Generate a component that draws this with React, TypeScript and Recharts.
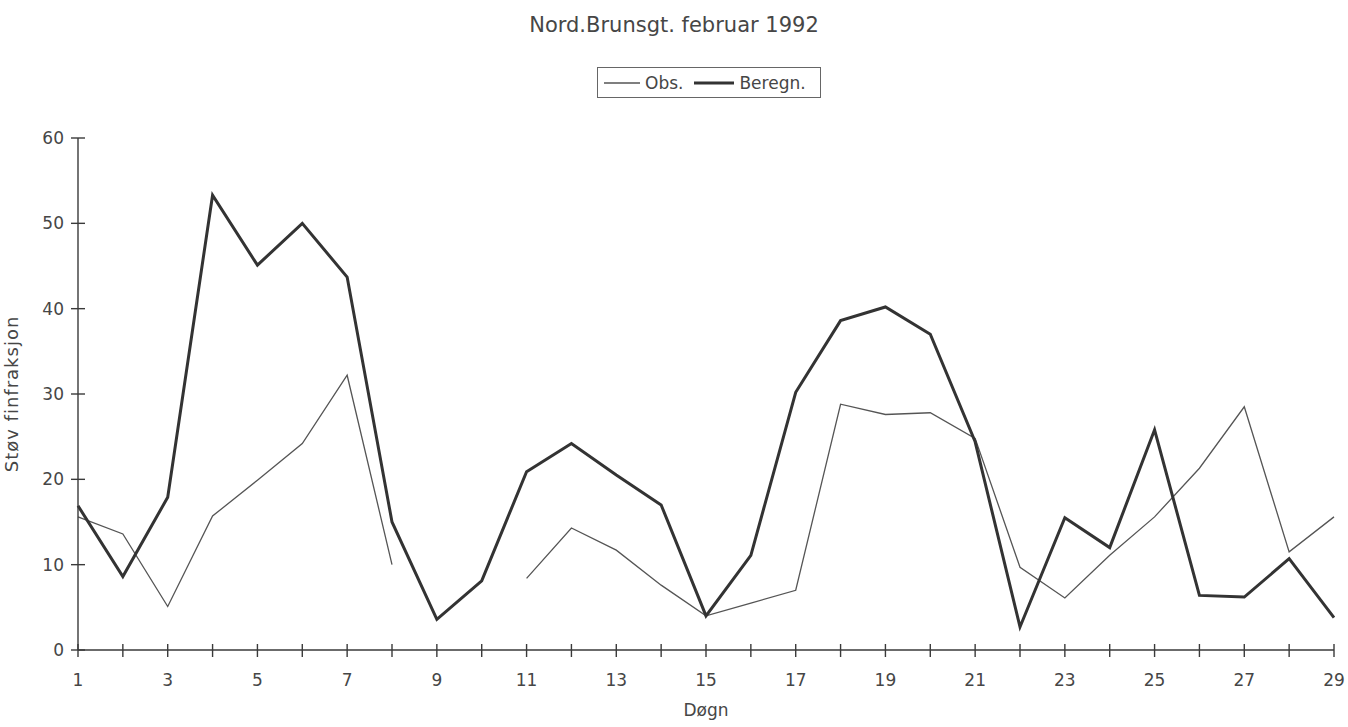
import { LineChart, Line, XAxis, YAxis, Label } from "recharts";

const days = [
  1, 2, 3, 4, 5, 6, 7, 8, 9, 10, 11, 12, 13, 14, 15, 16, 17, 18, 19, 20, 21,
  22, 23, 24, 25, 26, 27, 28, 29,
];

const obs = [
  15.6, 13.6, 5.1, 15.7, 19.9, 24.2, 32.2, 10.0, null, null, 8.4, 14.3, 11.7,
  7.6, 4.0, 5.5, 7.0, 28.8, 27.6, 27.8, 24.8, 9.7, 6.1, 11.1, 15.6, 21.3, 28.5,
  11.5, 15.6,
];

const beregn = [
  16.9, 8.6, 17.9, 53.3, 45.1, 50.0, 43.7, 15.0, 3.6, 8.1, 20.9, 24.2, 20.5,
  17.0, 4.0, 11.1, 30.2, 38.6, 40.2, 37.0, 24.4, 2.7, 15.5, 12.0, 25.8, 6.4,
  6.2, 10.7, 3.8,
];

const yTicks = [0, 10, 20, 30, 40, 50, 60];

const data = days.map((d, i) => ({ day: d, obs: obs[i], beregn: beregn[i] }));

const FONT = "'DejaVu Sans', sans-serif";
const TEXT = "#464646";
const AXIS = "#3a3a3a";

const XTick = (props: any) => {
  const { x, y, payload } = props;
  const v = payload.value;
  return (
    <g>
      <line x1={x} x2={x} y1={y - 6} y2={y + 7} stroke={AXIS} strokeWidth={1.4} />
      {v % 2 === 1 && (
        <text
          x={x}
          y={y + 30}
          textAnchor="middle"
          dominantBaseline="central"
          fontSize={17}
          fill={TEXT}
          fontFamily={FONT}
        >
          {v}
        </text>
      )}
    </g>
  );
};

const YTick = (props: any) => {
  const { x, y, payload } = props;
  return (
    <g>
      <line x1={x - 7} x2={x + 7} y1={y} y2={y} stroke={AXIS} strokeWidth={1.4} />
      <text
        x={x - 14}
        y={y}
        textAnchor="end"
        dominantBaseline="central"
        fontSize={17}
        fill={TEXT}
        fontFamily={FONT}
      >
        {payload.value}
      </text>
    </g>
  );
};

// legend drawn outside the chart so it doesn't push the plot down
const LegendBox = () => (
  <div
    style={{
      position: "absolute",
      top: 67,
      left: 597,
      width: 224,
      height: 31,
      boxSizing: "border-box",
      display: "flex",
      alignItems: "center",
      border: "1px solid #666",
      padding: "0 6px",
      fontFamily: FONT,
      fontSize: 17,
      color: TEXT,
      gap: 5,
      background: "#fff",
    }}
  >
    <svg width={36} height={4}>
      <line x1={0} x2={36} y1={2} y2={2} stroke="#555" strokeWidth={1.3} />
    </svg>
    <span style={{ marginRight: 6 }}>Obs.</span>
    <svg width={40} height={4}>
      <line x1={0} x2={40} y1={2} y2={2} stroke="#333" strokeWidth={3} />
    </svg>
    <span>Beregn.</span>
  </div>
);

export default function App() {
  return (
    <div
      style={{
        position: "absolute",
        left: 0,
        top: 0,
        width: 1348,
        height: 727,
        background: "#fff",
      }}
    >
      <div
        style={{
          position: "absolute",
          top: 12,
          width: 1348,
          textAlign: "center",
          fontFamily: FONT,
          fontSize: 21,
          lineHeight: "26px",
          color: TEXT,
        }}
      >
        Nord.Brunsgt. februar 1992
      </div>
      <LineChart
        width={1348}
        height={727}
        data={data}
        margin={{ top: 138, right: 14, bottom: 37, left: 18 }}
      >
        <XAxis
          dataKey="day"
          type="number"
          domain={[1, 29]}
          ticks={days}
          interval={0}
          tick={<XTick />}
          tickLine={false}
          tickSize={0}
          tickMargin={0}
          height={40}
          stroke={AXIS}
          strokeWidth={1.4}
        >
          <Label
            value="Døgn"
            position="insideBottom"
            offset={-26}
            fontSize={17}
            fill={TEXT}
            fontFamily={FONT}
          />
        </XAxis>
        <YAxis
          domain={[0, 60]}
          ticks={yTicks}
          interval={0}
          tick={<YTick />}
          tickLine={false}
          tickSize={0}
          tickMargin={0}
          width={60}
          stroke={AXIS}
          strokeWidth={1.4}
        >
          <Label
            value="Støv finfraksjon"
            angle={-90}
            position="insideLeft"
            offset={-6}
            style={{ textAnchor: "middle", letterSpacing: 1 }}
            fontSize={18}
            fill={TEXT}
            fontFamily={FONT}
          />
        </YAxis>
        <Line
          dataKey="obs"
          name="Obs."
          stroke="#555"
          strokeWidth={1.3}
          dot={false}
          connectNulls={false}
          isAnimationActive={false}
        />
        <Line
          dataKey="beregn"
          name="Beregn."
          stroke="#333"
          strokeWidth={3}
          dot={false}
          isAnimationActive={false}
        />
      </LineChart>
      <LegendBox />
    </div>
  );
}
